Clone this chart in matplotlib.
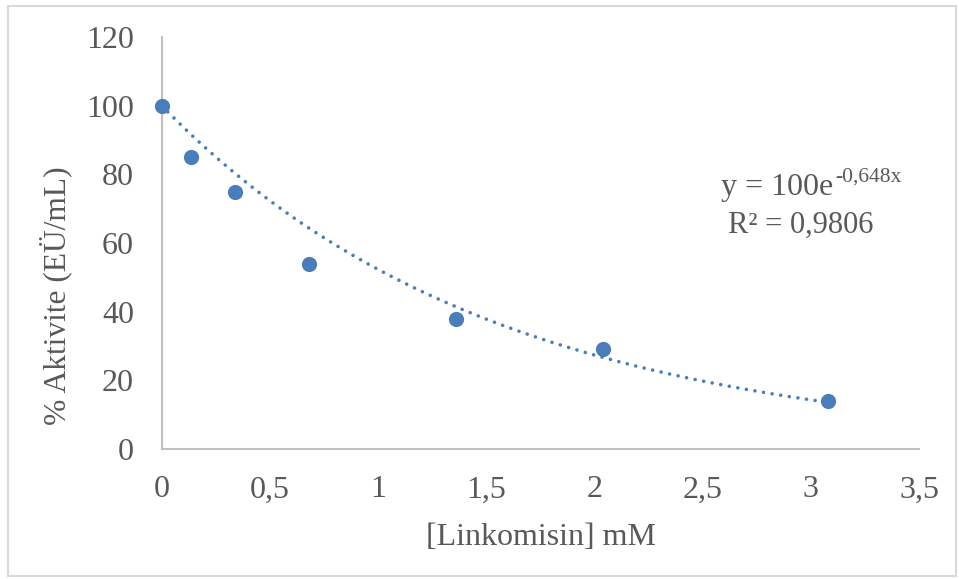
import numpy as np
import matplotlib
matplotlib.use('Agg')
import matplotlib.pyplot as plt
from matplotlib.patches import Rectangle

# Data
conc = [0, 0.135, 0.34, 0.68, 1.36, 2.04, 3.08]      # [Linkomisin] mM
activity = [100, 85, 75, 54, 38, 29, 14]             # % Aktivite
fit_a, fit_b = 100, -0.648                           # trendline y = a*e^(b*x)
eq_main = 'y = 100e'
eq_sup = '-0,648x'
r2_text = 'R² = 0,9806'
x_ticks = [0, 0.5, 1, 1.5, 2, 2.5, 3, 3.5]
y_ticks = [0, 20, 40, 60, 80, 100, 120]

text_col = '#595959'
axis_col = '#bfbfbf'
blue = '#4a7ebb'

plt.rcParams['font.family'] = ['Liberation Serif', 'DejaVu Serif']

W, H = 959, 579
fig = plt.figure(figsize=(W / 100, H / 100), dpi=100)
fig.patches.append(Rectangle((8 / W, 3 / H), 948 / W, 570 / H,
                             transform=fig.transFigure, fill=False,
                             edgecolor='#d9d9d9', linewidth=1.5))

ax = fig.add_axes([161.7 / W, 1 - 449 / H, (919 - 161.7) / W, (449 - 37) / H])

# exponential trendline over the data range
xs = np.linspace(0, max(conc), 200)
ax.plot(xs, fit_a * np.exp(fit_b * xs), color=blue, linewidth=2.6,
        linestyle=(0, (0.01, 2.4)), dash_capstyle='round', zorder=2)
ax.scatter(conc, activity, s=120, color=blue, zorder=3, clip_on=False,
           linewidths=0)

ax.set_xlim(0, 3.5)
ax.set_ylim(0, 120)
ax.set_xticks(x_ticks)
ax.set_yticks(y_ticks)
ax.set_xticklabels([f'{v:g}'.replace('.', ',') for v in x_ticks])
ax.set_yticklabels([str(v) for v in y_ticks])
ax.tick_params(length=0, labelsize=23, labelcolor=text_col)
ax.tick_params(axis='x', pad=19)
ax.tick_params(axis='y', pad=20)

for s in ['top', 'right']:
    ax.spines[s].set_visible(False)
for s in ['left', 'bottom']:
    ax.spines[s].set_color(axis_col)
    ax.spines[s].set_linewidth(1.5)

fig.text(541 / W, 1 - 545 / H, '[Linkomisin] mM', ha='center', va='baseline',
         fontsize=23, color=text_col)
fig.text(56 / W, 1 - 296 / H, '% Aktivite (EÜ/mL)', ha='center', va='center',
         rotation=90, fontsize=22.7, color=text_col)

# trendline equation, superscript drawn as its own smaller text
t_main = fig.text(721 / W, 1 - 195 / H, eq_main, ha='left', va='baseline',
                  fontsize=23, color=text_col)
fig.canvas.draw()
bb = t_main.get_window_extent()
fig.text((bb.x1 + 2) / W, 1 - 182 / H, eq_sup, ha='left', va='baseline',
         fontsize=15.5, color=text_col)
fig.text(801 / W, 1 - 233 / H, r2_text, ha='center', va='baseline',
         fontsize=22, color=text_col)

plt.savefig('out.png', dpi=100)
